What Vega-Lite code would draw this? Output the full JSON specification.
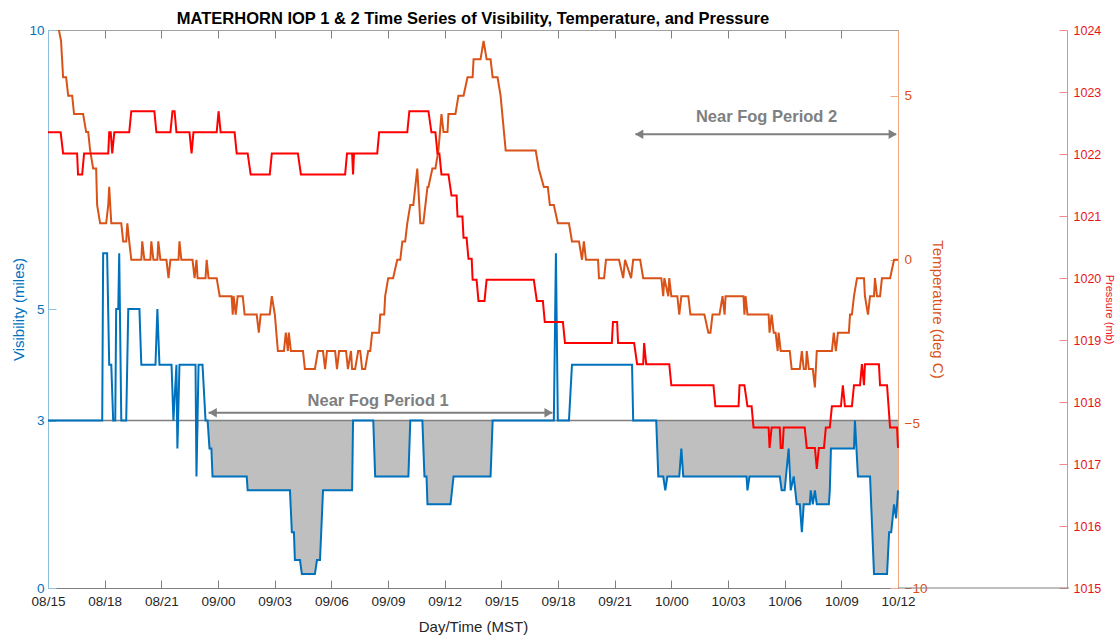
{
  "$schema": "https://vega.github.io/schema/vega-lite/v6.json",
  "width": 850,
  "height": 558,
  "autosize": {"type": "none"},
  "padding": {"left": 48, "top": 30, "right": 221, "bottom": 50},
  "background": "white",
  "config": {
    "view": {"stroke": null},
    "font": "Liberation Sans",
    "axis": {"grid": false, "labelFont": "Liberation Sans", "titleFont": "Liberation Sans", "titleFontWeight": "normal"}
  },
  "title": {
    "text": "MATERHORN IOP 1 & 2 Time Series of Visibility, Temperature, and Pressure",
    "font": "Liberation Sans",
    "fontSize": 16.5,
    "fontWeight": "bold",
    "color": "#000000",
    "anchor": "middle",
    "offset": -4
  },
  "datasets": {
    "visibility": [
      {"h": 0, "vis": 3, "fog": 3}, {"h": 2.87, "vis": 3, "fog": 3}, {"h": 2.92, "vis": 6, "fog": 3}, {"h": 3.13, "vis": 6, "fog": 3},
      {"h": 3.24, "vis": 4, "fog": 3}, {"h": 3.35, "vis": 4, "fog": 3}, {"h": 3.45, "vis": 3, "fog": 3}, {"h": 3.56, "vis": 3, "fog": 3},
      {"h": 3.61, "vis": 5, "fog": 3}, {"h": 3.72, "vis": 5, "fog": 3}, {"h": 3.77, "vis": 6, "fog": 3}, {"h": 3.88, "vis": 3, "fog": 3},
      {"h": 4.14, "vis": 3, "fog": 3}, {"h": 4.25, "vis": 5, "fog": 3}, {"h": 4.84, "vis": 5, "fog": 3}, {"h": 4.94, "vis": 4, "fog": 3},
      {"h": 5.69, "vis": 4, "fog": 3}, {"h": 5.79, "vis": 5, "fog": 3}, {"h": 5.9, "vis": 4, "fog": 3}, {"h": 6.54, "vis": 4, "fog": 3},
      {"h": 6.64, "vis": 3, "fog": 3}, {"h": 6.8, "vis": 4, "fog": 3}, {"h": 6.85, "vis": 2.5, "fog": 2.5}, {"h": 6.96, "vis": 4, "fog": 3},
      {"h": 7.81, "vis": 4, "fog": 3}, {"h": 7.86, "vis": 2, "fog": 2}, {"h": 7.97, "vis": 4, "fog": 3}, {"h": 8.18, "vis": 4, "fog": 3},
      {"h": 8.34, "vis": 3, "fog": 3}, {"h": 8.45, "vis": 3, "fog": 3}, {"h": 8.55, "vis": 2.5, "fog": 2.5}, {"h": 8.65, "vis": 2.5, "fog": 2.5},
      {"h": 8.71, "vis": 2, "fog": 2}, {"h": 10.52, "vis": 2, "fog": 2}, {"h": 10.57, "vis": 1.75, "fog": 1.75}, {"h": 12.81, "vis": 1.75, "fog": 1.75},
      {"h": 12.91, "vis": 1, "fog": 1}, {"h": 13.02, "vis": 1, "fog": 1}, {"h": 13.07, "vis": 0.5, "fog": 0.5}, {"h": 13.34, "vis": 0.5, "fog": 0.5},
      {"h": 13.44, "vis": 0.25, "fog": 0.25}, {"h": 14.13, "vis": 0.25, "fog": 0.25}, {"h": 14.24, "vis": 0.5, "fog": 0.5}, {"h": 14.4, "vis": 0.5, "fog": 0.5},
      {"h": 14.56, "vis": 1.75, "fog": 1.75}, {"h": 16.1, "vis": 1.75, "fog": 1.75}, {"h": 16.15, "vis": 3, "fog": 3}, {"h": 17.22, "vis": 3, "fog": 3},
      {"h": 17.32, "vis": 2, "fog": 2}, {"h": 19.08, "vis": 2, "fog": 2}, {"h": 19.18, "vis": 3, "fog": 3}, {"h": 19.82, "vis": 3, "fog": 3},
      {"h": 19.93, "vis": 2, "fog": 2}, {"h": 20.04, "vis": 2, "fog": 2}, {"h": 20.09, "vis": 1.5, "fog": 1.5}, {"h": 21.31, "vis": 1.5, "fog": 1.5},
      {"h": 21.47, "vis": 2, "fog": 2}, {"h": 23.43, "vis": 2, "fog": 2}, {"h": 23.54, "vis": 3, "fog": 3}, {"h": 26.78, "vis": 3, "fog": 3},
      {"h": 26.89, "vis": 6, "fog": 3}, {"h": 26.99, "vis": 3, "fog": 3}, {"h": 27.58, "vis": 3, "fog": 3}, {"h": 27.74, "vis": 4, "fog": 3},
      {"h": 30.92, "vis": 4, "fog": 3}, {"h": 30.98, "vis": 3, "fog": 3}, {"h": 32.2, "vis": 3, "fog": 3}, {"h": 32.31, "vis": 2, "fog": 2},
      {"h": 32.57, "vis": 2, "fog": 2}, {"h": 32.68, "vis": 1.75, "fog": 1.75}, {"h": 32.79, "vis": 2, "fog": 2}, {"h": 33.42, "vis": 2, "fog": 2},
      {"h": 33.53, "vis": 2.5, "fog": 2.5}, {"h": 33.63, "vis": 2, "fog": 2}, {"h": 36.98, "vis": 2, "fog": 2}, {"h": 37.03, "vis": 1.75, "fog": 1.75},
      {"h": 37.14, "vis": 2, "fog": 2}, {"h": 38.74, "vis": 2, "fog": 2}, {"h": 38.84, "vis": 1.75, "fog": 1.75}, {"h": 39.0, "vis": 1.75, "fog": 1.75},
      {"h": 39.21, "vis": 2.5, "fog": 2.5}, {"h": 39.32, "vis": 1.75, "fog": 1.75}, {"h": 39.48, "vis": 2, "fog": 2}, {"h": 39.64, "vis": 1.5, "fog": 1.5},
      {"h": 39.8, "vis": 1.5, "fog": 1.5}, {"h": 39.91, "vis": 1, "fog": 1}, {"h": 40.01, "vis": 1.5, "fog": 1.5}, {"h": 40.33, "vis": 1.5, "fog": 1.5},
      {"h": 40.38, "vis": 1.75, "fog": 1.75}, {"h": 40.49, "vis": 1.5, "fog": 1.5}, {"h": 40.6, "vis": 1.75, "fog": 1.75}, {"h": 40.7, "vis": 1.5, "fog": 1.5},
      {"h": 41.34, "vis": 1.5, "fog": 1.5}, {"h": 41.39, "vis": 1.75, "fog": 1.75}, {"h": 41.45, "vis": 2.5, "fog": 2.5}, {"h": 42.67, "vis": 2.5, "fog": 2.5},
      {"h": 42.72, "vis": 3, "fog": 3}, {"h": 42.88, "vis": 2, "fog": 2}, {"h": 43.52, "vis": 2, "fog": 2}, {"h": 43.73, "vis": 0.25, "fog": 0.25},
      {"h": 44.42, "vis": 0.25, "fog": 0.25}, {"h": 44.53, "vis": 1, "fog": 1}, {"h": 44.64, "vis": 1, "fog": 1}, {"h": 44.79, "vis": 1.5, "fog": 1.5},
      {"h": 44.9, "vis": 1.25, "fog": 1.25}, {"h": 45, "vis": 1.75, "fog": 1.75}
    ],
    "temperature": [
      {"h": 0, "temp": 7.22}, {"h": 0.5, "temp": 7.22}, {"h": 0.69, "temp": 6.67}, {"h": 0.8, "temp": 5.56}, {"h": 0.96, "temp": 5.56},
      {"h": 1.07, "temp": 5.0}, {"h": 1.28, "temp": 5.0}, {"h": 1.38, "temp": 4.44}, {"h": 1.86, "temp": 4.44}, {"h": 2.02, "temp": 3.89},
      {"h": 2.13, "temp": 3.89}, {"h": 2.23, "temp": 3.33}, {"h": 2.39, "temp": 2.78}, {"h": 2.55, "temp": 2.78}, {"h": 2.6, "temp": 1.67},
      {"h": 2.76, "temp": 1.11}, {"h": 3.08, "temp": 1.11}, {"h": 3.19, "temp": 1.67}, {"h": 3.24, "temp": 2.22}, {"h": 3.35, "temp": 1.11},
      {"h": 3.88, "temp": 1.11}, {"h": 3.98, "temp": 0.56}, {"h": 4.14, "temp": 0.56}, {"h": 4.2, "temp": 1.11}, {"h": 4.3, "temp": 0.56},
      {"h": 4.41, "temp": 0}, {"h": 4.94, "temp": 0}, {"h": 4.99, "temp": 0.56}, {"h": 5.1, "temp": 0}, {"h": 5.42, "temp": 0},
      {"h": 5.47, "temp": 0.56}, {"h": 5.58, "temp": 0}, {"h": 5.79, "temp": 0}, {"h": 5.84, "temp": 0.56}, {"h": 5.95, "temp": 0},
      {"h": 6.27, "temp": 0}, {"h": 6.38, "temp": -0.56}, {"h": 6.48, "temp": 0}, {"h": 6.91, "temp": 0}, {"h": 6.96, "temp": 0.56},
      {"h": 7.06, "temp": 0}, {"h": 7.65, "temp": 0}, {"h": 7.76, "temp": -0.56}, {"h": 7.86, "temp": 0}, {"h": 7.92, "temp": -0.56},
      {"h": 8.34, "temp": -0.56}, {"h": 8.4, "temp": 0}, {"h": 8.5, "temp": -0.56}, {"h": 8.93, "temp": -0.56}, {"h": 9.09, "temp": -1.11},
      {"h": 9.72, "temp": -1.11}, {"h": 9.78, "temp": -1.67}, {"h": 9.83, "temp": -1.11}, {"h": 9.94, "temp": -1.67}, {"h": 10.04, "temp": -1.11},
      {"h": 10.31, "temp": -1.11}, {"h": 10.41, "temp": -1.67}, {"h": 11.05, "temp": -1.67}, {"h": 11.16, "temp": -2.22}, {"h": 11.26, "temp": -1.67},
      {"h": 11.74, "temp": -1.67}, {"h": 11.85, "temp": -1.11}, {"h": 12.01, "temp": -1.67}, {"h": 12.17, "temp": -2.78}, {"h": 12.49, "temp": -2.78},
      {"h": 12.59, "temp": -2.22}, {"h": 12.7, "temp": -2.78}, {"h": 12.75, "temp": -2.22}, {"h": 12.86, "temp": -2.78}, {"h": 13.5, "temp": -2.78},
      {"h": 13.6, "temp": -3.33}, {"h": 14.13, "temp": -3.33}, {"h": 14.29, "temp": -2.78}, {"h": 14.56, "temp": -2.78}, {"h": 14.67, "temp": -3.33},
      {"h": 14.77, "temp": -2.78}, {"h": 15.2, "temp": -2.78}, {"h": 15.3, "temp": -3.33}, {"h": 15.41, "temp": -2.78}, {"h": 15.78, "temp": -2.78},
      {"h": 15.88, "temp": -3.33}, {"h": 16.04, "temp": -2.78}, {"h": 16.1, "temp": -3.33}, {"h": 16.26, "temp": -3.33}, {"h": 16.42, "temp": -2.78},
      {"h": 16.53, "temp": -2.78}, {"h": 16.63, "temp": -3.33}, {"h": 16.79, "temp": -3.33}, {"h": 16.95, "temp": -2.78}, {"h": 17.06, "temp": -2.78},
      {"h": 17.16, "temp": -2.22}, {"h": 17.53, "temp": -2.22}, {"h": 17.59, "temp": -1.67}, {"h": 17.8, "temp": -1.67}, {"h": 17.85, "temp": -1.11},
      {"h": 18.01, "temp": -0.56}, {"h": 18.27, "temp": -0.56}, {"h": 18.49, "temp": 0}, {"h": 18.65, "temp": 0}, {"h": 18.76, "temp": 0.56},
      {"h": 18.91, "temp": 0.56}, {"h": 19.02, "temp": 1.11}, {"h": 19.18, "temp": 1.67}, {"h": 19.34, "temp": 1.67}, {"h": 19.55, "temp": 2.78},
      {"h": 19.71, "temp": 1.11}, {"h": 19.87, "temp": 1.11}, {"h": 20.09, "temp": 2.22}, {"h": 20.14, "temp": 2.22}, {"h": 20.35, "temp": 2.78},
      {"h": 20.51, "temp": 2.78}, {"h": 20.67, "temp": 3.33}, {"h": 20.83, "temp": 4.44}, {"h": 20.94, "temp": 3.89}, {"h": 21.15, "temp": 3.89},
      {"h": 21.2, "temp": 4.44}, {"h": 21.57, "temp": 4.44}, {"h": 21.73, "temp": 5.0}, {"h": 22.0, "temp": 5.0}, {"h": 22.21, "temp": 5.56},
      {"h": 22.48, "temp": 5.56}, {"h": 22.53, "temp": 6.11}, {"h": 22.9, "temp": 6.11}, {"h": 23.06, "temp": 6.67}, {"h": 23.22, "temp": 6.11},
      {"h": 23.43, "temp": 6.11}, {"h": 23.54, "temp": 5.56}, {"h": 23.8, "temp": 5.56}, {"h": 23.96, "temp": 5.0}, {"h": 24.23, "temp": 3.33},
      {"h": 25.82, "temp": 3.33}, {"h": 25.98, "temp": 2.78}, {"h": 26.25, "temp": 2.22}, {"h": 26.46, "temp": 2.22}, {"h": 26.57, "temp": 1.67},
      {"h": 26.78, "temp": 1.67}, {"h": 26.99, "temp": 1.11}, {"h": 27.58, "temp": 1.11}, {"h": 27.74, "temp": 0.56}, {"h": 28.11, "temp": 0.56},
      {"h": 28.27, "temp": 0}, {"h": 28.37, "temp": 0.56}, {"h": 28.48, "temp": 0}, {"h": 29.12, "temp": 0}, {"h": 29.17, "temp": -0.56},
      {"h": 29.44, "temp": -0.56}, {"h": 29.54, "temp": 0}, {"h": 30.23, "temp": 0}, {"h": 30.45, "temp": -0.56}, {"h": 30.55, "temp": 0},
      {"h": 30.87, "temp": -0.56}, {"h": 30.98, "temp": 0}, {"h": 31.35, "temp": 0}, {"h": 31.51, "temp": -0.56}, {"h": 32.47, "temp": -0.56},
      {"h": 32.57, "temp": -1.11}, {"h": 32.63, "temp": -0.56}, {"h": 32.84, "temp": -1.11}, {"h": 32.89, "temp": -0.56}, {"h": 33.0, "temp": -1.11},
      {"h": 33.32, "temp": -1.11}, {"h": 33.42, "temp": -1.67}, {"h": 33.53, "temp": -1.11}, {"h": 33.9, "temp": -1.11}, {"h": 34.01, "temp": -1.67},
      {"h": 34.75, "temp": -1.67}, {"h": 34.96, "temp": -2.22}, {"h": 35.07, "temp": -2.22}, {"h": 35.18, "temp": -1.67}, {"h": 35.55, "temp": -1.67},
      {"h": 35.71, "temp": -1.11}, {"h": 35.82, "temp": -1.67}, {"h": 35.87, "temp": -1.11}, {"h": 36.82, "temp": -1.11}, {"h": 36.87, "temp": -1.67},
      {"h": 36.93, "temp": -1.11}, {"h": 37.03, "temp": -1.67}, {"h": 38.15, "temp": -1.67}, {"h": 38.2, "temp": -2.22}, {"h": 38.31, "temp": -1.67},
      {"h": 38.42, "temp": -2.22}, {"h": 38.52, "temp": -2.22}, {"h": 38.63, "temp": -2.78}, {"h": 38.68, "temp": -2.22}, {"h": 38.79, "temp": -2.78},
      {"h": 39.27, "temp": -2.78}, {"h": 39.37, "temp": -3.33}, {"h": 39.8, "temp": -3.33}, {"h": 39.91, "temp": -2.78}, {"h": 40.01, "temp": -3.33},
      {"h": 40.12, "temp": -3.33}, {"h": 40.17, "temp": -2.78}, {"h": 40.28, "temp": -3.33}, {"h": 40.49, "temp": -3.33}, {"h": 40.6, "temp": -3.89},
      {"h": 40.7, "temp": -2.78}, {"h": 41.5, "temp": -2.78}, {"h": 41.6, "temp": -2.22}, {"h": 41.71, "temp": -2.78}, {"h": 41.82, "temp": -2.22},
      {"h": 42.4, "temp": -2.22}, {"h": 42.46, "temp": -1.67}, {"h": 42.56, "temp": -1.67}, {"h": 42.67, "temp": -1.11}, {"h": 42.83, "temp": -0.56},
      {"h": 43.2, "temp": -0.56}, {"h": 43.25, "temp": -1.11}, {"h": 43.41, "temp": -1.67}, {"h": 43.52, "temp": -1.11}, {"h": 43.73, "temp": -1.11},
      {"h": 43.78, "temp": -0.56}, {"h": 43.89, "temp": -1.11}, {"h": 44.05, "temp": -1.11}, {"h": 44.15, "temp": -0.56}, {"h": 44.58, "temp": -0.56},
      {"h": 44.79, "temp": 0}, {"h": 45, "temp": 0}
    ],
    "pressure": [
      {"h": 0, "p": 1022.35}, {"h": 0.67, "p": 1022.35}, {"h": 0.8, "p": 1022.01}, {"h": 1.54, "p": 1022.01}, {"h": 1.59, "p": 1021.67},
      {"h": 1.81, "p": 1021.67}, {"h": 1.91, "p": 1022.01}, {"h": 3.19, "p": 1022.01}, {"h": 3.24, "p": 1022.35}, {"h": 3.32, "p": 1022.35},
      {"h": 3.4, "p": 1022.01}, {"h": 3.51, "p": 1022.35}, {"h": 4.3, "p": 1022.35}, {"h": 4.41, "p": 1022.69}, {"h": 5.63, "p": 1022.69},
      {"h": 5.74, "p": 1022.35}, {"h": 6.48, "p": 1022.35}, {"h": 6.59, "p": 1022.69}, {"h": 6.7, "p": 1022.69}, {"h": 6.8, "p": 1022.35},
      {"h": 7.49, "p": 1022.35}, {"h": 7.6, "p": 1022.01}, {"h": 7.7, "p": 1022.35}, {"h": 8.93, "p": 1022.35}, {"h": 9.03, "p": 1022.69},
      {"h": 9.14, "p": 1022.35}, {"h": 9.88, "p": 1022.35}, {"h": 9.99, "p": 1022.01}, {"h": 10.57, "p": 1022.01}, {"h": 10.73, "p": 1021.67},
      {"h": 11.74, "p": 1021.67}, {"h": 11.85, "p": 1022.01}, {"h": 13.23, "p": 1022.01}, {"h": 13.39, "p": 1021.67}, {"h": 15.73, "p": 1021.67},
      {"h": 15.83, "p": 1022.01}, {"h": 16.1, "p": 1022.01}, {"h": 16.15, "p": 1021.67}, {"h": 16.2, "p": 1022.01}, {"h": 17.43, "p": 1022.01},
      {"h": 17.53, "p": 1022.35}, {"h": 19.02, "p": 1022.35}, {"h": 19.13, "p": 1022.69}, {"h": 20.14, "p": 1022.69}, {"h": 20.3, "p": 1022.35},
      {"h": 20.51, "p": 1022.35}, {"h": 20.62, "p": 1022.01}, {"h": 20.72, "p": 1022.01}, {"h": 20.83, "p": 1021.67}, {"h": 21.2, "p": 1021.67},
      {"h": 21.36, "p": 1021.33}, {"h": 21.63, "p": 1021.33}, {"h": 21.68, "p": 1020.99}, {"h": 21.94, "p": 1020.99}, {"h": 22.0, "p": 1020.65},
      {"h": 22.16, "p": 1020.65}, {"h": 22.26, "p": 1020.31}, {"h": 22.43, "p": 1020.31}, {"h": 22.48, "p": 1019.97}, {"h": 22.69, "p": 1019.97},
      {"h": 22.79, "p": 1019.63}, {"h": 23.11, "p": 1019.63}, {"h": 23.22, "p": 1019.97}, {"h": 25.72, "p": 1019.97}, {"h": 25.88, "p": 1019.63},
      {"h": 26.2, "p": 1019.63}, {"h": 26.3, "p": 1019.29}, {"h": 27.26, "p": 1019.29}, {"h": 27.37, "p": 1018.95}, {"h": 29.85, "p": 1018.95},
      {"h": 29.91, "p": 1019.29}, {"h": 30.13, "p": 1019.29}, {"h": 30.18, "p": 1018.95}, {"h": 31.03, "p": 1018.95}, {"h": 31.19, "p": 1018.61},
      {"h": 31.51, "p": 1018.61}, {"h": 31.56, "p": 1018.95}, {"h": 31.67, "p": 1018.61}, {"h": 32.89, "p": 1018.61}, {"h": 33.0, "p": 1018.27},
      {"h": 35.23, "p": 1018.27}, {"h": 35.33, "p": 1017.93}, {"h": 36.56, "p": 1017.93}, {"h": 36.61, "p": 1018.27}, {"h": 36.87, "p": 1018.27},
      {"h": 37.03, "p": 1017.93}, {"h": 37.25, "p": 1017.93}, {"h": 37.35, "p": 1017.59}, {"h": 38.15, "p": 1017.59}, {"h": 38.2, "p": 1017.26},
      {"h": 38.31, "p": 1017.59}, {"h": 38.74, "p": 1017.59}, {"h": 38.79, "p": 1017.26}, {"h": 38.89, "p": 1017.26}, {"h": 38.95, "p": 1017.59},
      {"h": 40.06, "p": 1017.59}, {"h": 40.17, "p": 1017.26}, {"h": 40.6, "p": 1017.26}, {"h": 40.7, "p": 1016.92}, {"h": 40.81, "p": 1017.26},
      {"h": 41.08, "p": 1017.26}, {"h": 41.18, "p": 1017.59}, {"h": 41.39, "p": 1017.59}, {"h": 41.5, "p": 1017.93}, {"h": 41.98, "p": 1017.93},
      {"h": 42.08, "p": 1018.27}, {"h": 42.19, "p": 1017.93}, {"h": 42.56, "p": 1017.93}, {"h": 42.67, "p": 1018.27}, {"h": 42.99, "p": 1018.27},
      {"h": 43.09, "p": 1018.61}, {"h": 43.2, "p": 1018.27}, {"h": 43.25, "p": 1018.61}, {"h": 43.99, "p": 1018.61}, {"h": 44.05, "p": 1018.27},
      {"h": 44.42, "p": 1018.27}, {"h": 44.58, "p": 1017.59}, {"h": 44.95, "p": 1017.59}, {"h": 45, "p": 1017.26}
    ],
    "periods": [
      {"label": "Near Fog Period 1", "start": 8.5, "end": 26.7, "mid": 17.48, "arrowVis": 3.14, "textVis": 3.27},
      {"label": "Near Fog Period 2", "start": 31.1, "end": 44.9, "mid": 38.04, "arrowVis": 8.13, "textVis": 8.35}
    ],
    "arrowheads": [
      {"h": 8.72, "vis": 3.14, "dir": "left"}, {"h": 26.5, "vis": 3.14, "dir": "right"},
      {"h": 31.3, "vis": 8.13, "dir": "left"}, {"h": 44.72, "vis": 8.13, "dir": "right"}
    ]
  },
  "layer": [
    {
      "data": {"name": "visibility"},
      "mark": {"type": "area", "color": "#bfbfbf", "opacity": 1},
      "encoding": {
        "x": {
          "field": "h", "type": "quantitative",
          "scale": {"domain": [0, 45], "nice": false, "zero": false},
          "axis": {
            "orient": "bottom",
            "values": [0, 3, 6, 9, 12, 15, 18, 21, 24, 27, 30, 33, 36, 39, 42, 45],
            "labelExpr": "timeFormat(datetime(2012, 9, 8, 15 + datum.value, 0), '%d/%H')",
            "labelFlush": false,
            "labelFontSize": 13.5,
            "labelColor": "#262626",
            "labelPadding": 14,
            "tickSize": -8,
            "tickColor": "#7f7f7f",
            "domainColor": "#7f7f7f",
            "title": "Day/Time (MST)",
            "titleFontSize": 15,
            "titleColor": "#262626",
            "titlePadding": 12
          }
        },
        "y": {
          "field": "fog", "type": "quantitative",
          "scale": {"domain": [0, 10], "nice": false, "zero": false},
          "axis": {
            "orient": "left",
            "values": [0, 3, 5, 10],
            "labelFontSize": 13.5,
            "labelColor": "#0072BD",
            "labelPadding": 12,
            "tickSize": -8,
            "tickColor": "#8fbfe0",
            "domainColor": "#8fbfe0",
            "title": "Visibility (miles)",
            "titleFontSize": 15,
            "titleColor": "#0072BD",
            "titlePadding": 2
          }
        },
        "y2": {"datum": 3}
      }
    },
    {
      "data": {"values": [{"level": 3}]},
      "mark": {"type": "rule", "color": "#7f7f7f", "strokeWidth": 1.5},
      "encoding": {
        "y": {"field": "level", "type": "quantitative", "scale": {"domain": [0, 10], "nice": false, "zero": false}, "axis": null}
      }
    },
    {
      "data": {"name": "visibility"},
      "mark": {"type": "line", "color": "#0072BD", "strokeWidth": 2},
      "encoding": {
        "x": {"field": "h", "type": "quantitative", "scale": {"domain": [0, 45], "nice": false, "zero": false}, "axis": null},
        "y": {"field": "vis", "type": "quantitative", "scale": {"domain": [0, 10], "nice": false, "zero": false}, "axis": null}
      }
    },
    {
      "data": {"name": "periods"},
      "mark": {"type": "rule", "color": "#7f7f7f", "strokeWidth": 2},
      "encoding": {
        "x": {"field": "start", "type": "quantitative", "scale": {"domain": [0, 45], "nice": false, "zero": false}, "axis": null},
        "x2": {"field": "end"},
        "y": {"field": "arrowVis", "type": "quantitative", "scale": {"domain": [0, 10], "nice": false, "zero": false}, "axis": null}
      }
    },
    {
      "data": {"name": "arrowheads"},
      "mark": {"type": "point", "filled": true, "color": "#7f7f7f", "opacity": 1, "size": 90},
      "encoding": {
        "x": {"field": "h", "type": "quantitative", "scale": {"domain": [0, 45], "nice": false, "zero": false}, "axis": null},
        "y": {"field": "vis", "type": "quantitative", "scale": {"domain": [0, 10], "nice": false, "zero": false}, "axis": null},
        "shape": {"field": "dir", "type": "nominal", "scale": {"domain": ["left", "right"], "range": ["triangle-left", "triangle-right"]}, "legend": null}
      }
    },
    {
      "data": {"name": "periods"},
      "mark": {"type": "text", "font": "Liberation Sans", "fontSize": 16.5, "fontWeight": "bold", "color": "#7f7f7f", "baseline": "alphabetic", "align": "center"},
      "encoding": {
        "x": {"field": "mid", "type": "quantitative", "scale": {"domain": [0, 45], "nice": false, "zero": false}, "axis": null},
        "y": {"field": "textVis", "type": "quantitative", "scale": {"domain": [0, 10], "nice": false, "zero": false}, "axis": null},
        "text": {"field": "label"}
      }
    },
    {
      "data": {"name": "temperature"},
      "mark": {"type": "line", "color": "#D95319", "strokeWidth": 2, "clip": true},
      "encoding": {
        "x": {
          "field": "h", "type": "quantitative",
          "scale": {"domain": [0, 45], "nice": false, "zero": false},
          "axis": {
            "orient": "top",
            "values": [0, 3, 6, 9, 12, 15, 18, 21, 24, 27, 30, 33, 36, 39, 42, 45],
            "labels": false,
            "tickSize": -8,
            "tickColor": "#7f7f7f",
            "domainColor": "#a0a0a0",
            "title": null
          }
        },
        "y": {
          "field": "temp", "type": "quantitative",
          "scale": {"domain": [-10, 7], "nice": false, "zero": false},
          "axis": {
            "orient": "right",
            "values": [-10, -5, 0, 5],
            "labelFontSize": 13.5,
            "labelColor": "#D95319",
            "labelPadding": 14,
            "tickSize": -8,
            "tickColor": "#f0a880",
            "domainColor": "#f0a880",
            "title": "Temperature (deg C)",
            "titleFontSize": 15,
            "titleColor": "#D95319",
            "titlePadding": 3
          }
        }
      }
    },
    {
      "data": {"name": "pressure"},
      "mark": {"type": "line", "color": "#FF0000", "strokeWidth": 2},
      "encoding": {
        "x": {"field": "h", "type": "quantitative", "scale": {"domain": [0, 45], "nice": false, "zero": false}, "axis": null},
        "y": {
          "field": "p", "type": "quantitative",
          "scale": {"domain": [1015, 1024], "nice": false, "zero": false},
          "axis": {
            "orient": "right",
            "offset": 169,
            "values": [1015, 1016, 1017, 1018, 1019, 1020, 1021, 1022, 1023, 1024],
            "format": "d",
            "labelFontSize": 12.5,
            "labelColor": "#E8141C",
            "labelPadding": 14,
            "tickSize": -8,
            "tickColor": "#f08a8a",
            "domainColor": "#f08a8a",
            "title": "Pressure (mb)",
            "titleFontSize": 11,
            "titleColor": "#E8141C",
            "titlePadding": 3
          }
        }
      }
    },
    {
      "data": {"values": [{"from": 45, "to": 54.05, "p": 1015}]},
      "mark": {"type": "rule", "color": "#7f7f7f", "strokeWidth": 1, "clip": false},
      "encoding": {
        "x": {"field": "from", "type": "quantitative", "scale": {"domain": [0, 45], "nice": false, "zero": false}, "axis": null},
        "x2": {"field": "to"},
        "y": {"field": "p", "type": "quantitative", "scale": {"domain": [1015, 1024], "nice": false, "zero": false}, "axis": null}
      }
    }
  ],
  "resolve": {"scale": {"y": "independent"}, "axis": {"x": "independent"}}
}
